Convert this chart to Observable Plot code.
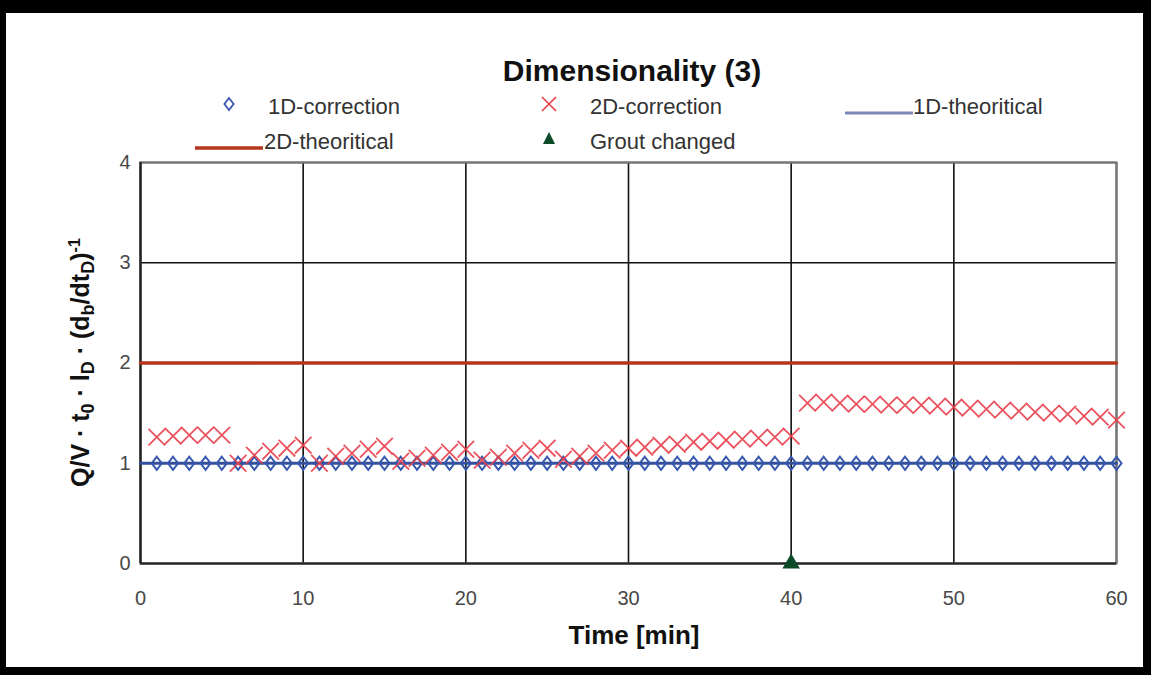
<!DOCTYPE html>
<html>
<head>
<meta charset="utf-8">
<script src="https://cdn.jsdelivr.net/npm/d3@7"></script>
<script src="https://cdn.jsdelivr.net/npm/@observablehq/plot@0.6"></script>
<style>
  html, body { margin: 0; padding: 0; background: #000; }
  #page { position: relative; width: 1151px; height: 675px; background: #000; overflow: hidden;
          font-family: "Liberation Sans", Arial, sans-serif; }
  #inner { position: absolute; left: 6px; top: 13px; width: 1137px; height: 654px; background: #fff; }
  .abs { position: absolute; white-space: nowrap; line-height: 1; }
  .title { font-weight: bold; font-size: 30px; color: #111; }
  .leg { font-size: 22px; color: #333; }
  .xlabel { font-weight: bold; font-size: 26px; color: #111; }
  .ylabel { font-weight: bold; font-size: 25px; color: #111; transform-origin: 0 0; }
  .ylabel .sb { font-size: 72%; position: relative; top: 0.25em; }
  .ylabel .sp { font-size: 65%; position: relative; top: -0.55em; }
  #chart { position: absolute; left: 6px; top: 150px; }
</style>
</head>
<body>
<div id="page">
  <div id="inner"></div>
  <div id="chart"></div>
</div>
<script>
// ---------------- data ----------------
const minutes = [1,2,3,4,5,6,7,8,9,10,11,12,13,14,15,16,17,18,19,20,
                 21,22,23,24,25,26,27,28,29,30,31,32,33,34,35,36,37,38,39,40,
                 41,42,43,44,45,46,47,48,49,50,51,52,53,54,55,56,57,58,59,60];
const correction1D = [1,1,1,1,1,1,1,1,1,1,1,1,1,1,1,1,1,1,1,1,
                      1,1,1,1,1,1,1,1,1,1,1,1,1,1,1,1,1,1,1,1,
                      1,1,1,1,1,1,1,1,1,1,1,1,1,1,1,1,1,1,1,1];
const correction2D = [1.26,1.27,1.28,1.28,1.28, 1.00,1.08,1.12,1.15,1.18,
                      1.00,1.07,1.10,1.14,1.17, 1.02,1.05,1.08,1.11,1.14,
                      1.03,1.06,1.10,1.13,1.15, 1.04,1.07,1.10,1.13,1.15,
                      1.16,1.18,1.19,1.21,1.22, 1.23,1.24,1.25,1.26,1.27,
                      1.60,1.61,1.60,1.59,1.59, 1.58,1.58,1.58,1.57,1.56,
                      1.55,1.54,1.53,1.52,1.51, 1.50,1.49,1.47,1.46,1.43];
const theoryTime = [0, 60];
const theoretical1D = [1, 1];
const theoretical2D = [2, 2];
const groutTime = [40];
const groutValue = [0];
const xTicks = [0, 10, 20, 30, 40, 50, 60];
const yTicks = [0, 1, 2, 3, 4];

const titleText = "Dimensionality (3)";
const legendLabels = ["1D-correction", "2D-correction", "1D-theoritical", "2D-theoritical", "Grout changed"];
const xLabelText = "Time [min]";

// ---------------- colours ----------------
const C1 = "#3557ad", C2 = "#e8404c", CT1 = "#34509c", CT1leg = "#7f87b6", CT2 = "#b3361d", CG = "#0d4a27";

// custom diamond (slightly taller than wide)
const diamond = {
  draw(ctx, size) {
    const r = Math.sqrt(size / Math.PI);
    const w = r, h = r * 1.3;
    ctx.moveTo(0, -h); ctx.lineTo(w, 0); ctx.lineTo(0, h); ctx.lineTo(-w, 0); ctx.closePath();
  }
};

const pts1 = minutes.map((t, i) => ({t, v: correction1D[i]}));
const pts2 = minutes.map((t, i) => ({t, v: correction2D[i]}));
const th1 = theoryTime.map((t, i) => ({t, v: theoretical1D[i]}));
const th2 = theoryTime.map((t, i) => ({t, v: theoretical2D[i]}));
const grout = groutTime.map((t, i) => ({t, v: groutValue[i]}));

const chart = Plot.plot({
  width: 1137, height: 517,
  marginLeft: 134, marginRight: 27, marginTop: 12, marginBottom: 104,
  x: {domain: [0, 60]},
  y: {domain: [0, 4]},
  style: {fontFamily: '"Liberation Sans", Arial, sans-serif', fontSize: "20px", color: "#484848", background: "transparent", overflow: "visible"},
  marks: [
    Plot.gridX(xTicks, {stroke: "#111", strokeOpacity: 1, strokeWidth: 1.6}),
    Plot.gridY(yTicks, {stroke: "#111", strokeOpacity: 1, strokeWidth: 1.6}),
    Plot.frame({stroke: "#777", strokeWidth: 2.2}),
    Plot.ruleX([0], {stroke: "#222", strokeWidth: 2.2}),
    Plot.ruleY([0], {stroke: "#222", strokeWidth: 2.2}),
    Plot.line(th2, {x: "t", y: "v", stroke: CT2, strokeWidth: 3.5}),
    Plot.line(th1, {x: "t", y: "v", stroke: CT1, strokeWidth: 3}),
    Plot.dot(pts1, {x: "t", y: "v", symbol: diamond, r: 5, stroke: C1, strokeWidth: 2, fill: "none"}),
    Plot.dot(pts2, {x: "t", y: "v", symbol: "times", r: 7.6, stroke: C2, strokeWidth: 1.8, strokeOpacity: 0.9}),
    Plot.dot(grout, {x: "t", y: "v", symbol: "triangle", r: 6.5, fill: CG, stroke: "none"}),
    Plot.axisX(xTicks, {tickSize: 0, tickPadding: 27, label: null, fontSize: 20, tickFormat: d3.format("d")}),
    Plot.axisY(yTicks, {tickSize: 0, tickPadding: 10, label: null, fontSize: 20, tickFormat: d3.format("d")})
  ]
});
document.getElementById("chart").appendChild(chart);

// ---------------- title, legend, axis labels ----------------
const page = document.getElementById("page");
function place(html, cls, x, yc, anchor) {
  const d = document.createElement("div");
  d.className = "abs " + cls;
  d.innerHTML = html;
  d.style.left = x + "px";
  d.style.top = yc + "px";
  d.style.transform = anchor === "middle" ? "translate(-50%,-50%)" : "translate(0,-50%)";
  page.appendChild(d);
  return d;
}
place(titleText, "title", 632, 71, "middle");

function swatch(svgInner, x, yc, w, h) {
  const d = document.createElement("div");
  d.className = "abs";
  d.style.left = (x - w / 2) + "px";
  d.style.top = (yc - h / 2) + "px";
  d.innerHTML = `<svg width="${w}" height="${h}" viewBox="${-w/2} ${-h/2} ${w} ${h}">${svgInner}</svg>`;
  page.appendChild(d);
}
// row 1
swatch(`<path d="M0,-6L4.6,0L0,6L-4.6,0Z" fill="none" stroke="${C1}" stroke-width="1.8"/>`, 229, 104, 14, 16);
place(legendLabels[0], "leg", 268, 107);
swatch(`<path d="M-7,-7L7,7M7,-7L-7,7" stroke="${C2}" stroke-width="1.7"/>`, 549, 104, 18, 18);
place(legendLabels[1], "leg", 590, 107);
swatch(`<line x1="-34" x2="34" y1="0" y2="0" stroke="${CT1leg}" stroke-width="3"/>`, 879, 106, 68, 6);
place(legendLabels[2], "leg", 913, 107);
// row 2
swatch(`<line x1="-34" x2="34" y1="0" y2="0" stroke="${CT2}" stroke-width="3.5"/>`, 229, 141, 68, 6);
place(legendLabels[3], "leg", 264, 142);
swatch(`<path d="M0,-7L6,5L-6,5Z" fill="${CG}"/>`, 549, 139, 14, 16);
place(legendLabels[4], "leg", 590, 142);

// x label
place(xLabelText, "xlabel", 634, 635, "middle");
// y label (rotated)
const yl = document.createElement("div");
yl.className = "abs ylabel";
yl.innerHTML = 'Q/V · t<span class="sb">0</span> · l<span class="sb">D</span> · (d<span class="sb">b</span>/dt<span class="sb">D</span>)<span class="sp">-1</span>';
page.appendChild(yl);
const w = yl.offsetWidth, h = yl.offsetHeight;
yl.style.left = (80 - h / 2) + "px";
yl.style.top = (362 + w / 2) + "px";
yl.style.transform = "rotate(-90deg)";
</script>
</body>
</html>
